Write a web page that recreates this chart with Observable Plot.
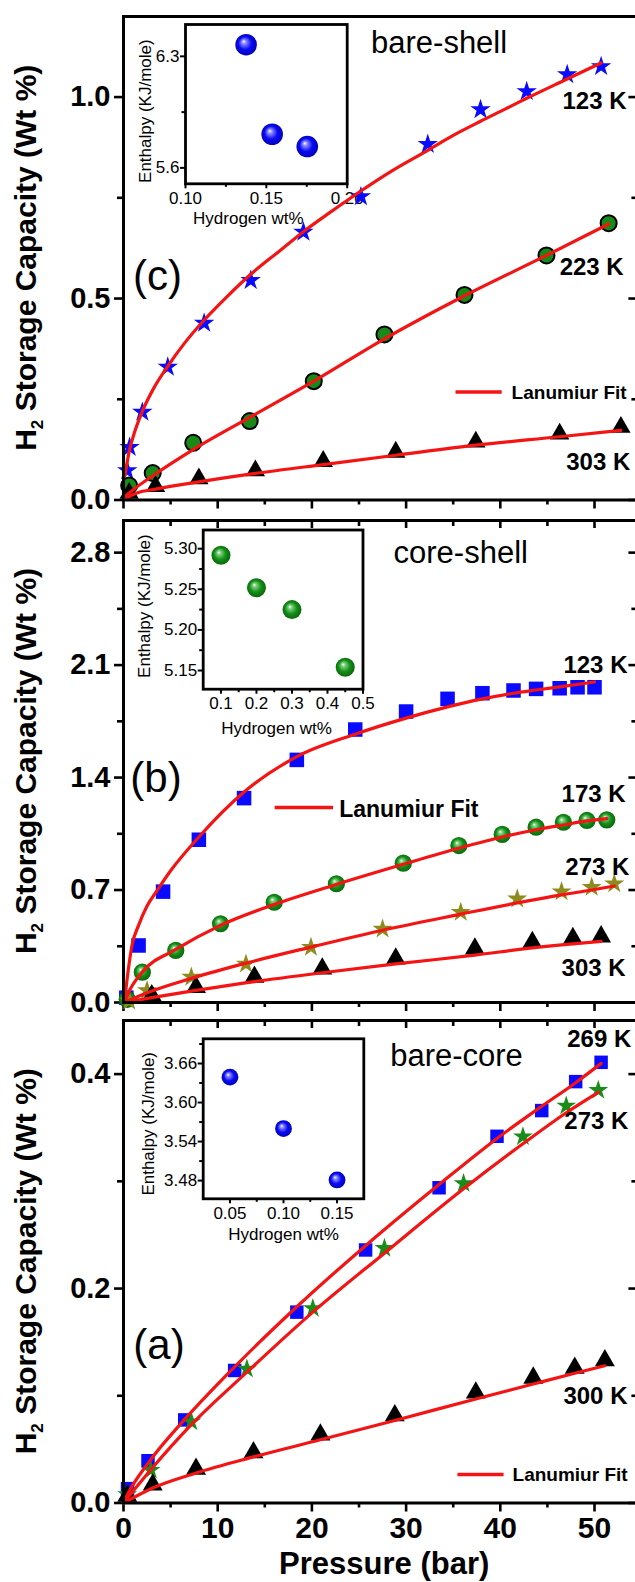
<!DOCTYPE html>
<html>
<head>
<meta charset="utf-8">
<script src="https://cdn.jsdelivr.net/npm/d3@7"></script>
<script src="https://cdn.jsdelivr.net/npm/@observablehq/plot@0.6"></script>
<style>
  html, body { margin: 0; padding: 0; background: white; }
  #fig { position: relative; width: 635px; height: 1582px; overflow: hidden; background: white; }
  #fig svg { position: absolute; }
</style>
</head>
<body>
<div id="fig"></div>
<script>
// ---------------- DATA ----------------
// Panel (c) bare-shell
const pressureC123 = [0.4, 0.65, 2.0, 4.7, 8.56, 13.5, 19.1, 25.2, 32.3, 37.9, 42.8, 47.1, 50.7];
const capC123      = [0.073, 0.131, 0.218, 0.33, 0.439, 0.545, 0.665, 0.753, 0.883, 0.969, 1.014, 1.056, 1.076];
const pressureC223 = [0.6, 3.1, 7.4, 13.4, 20.2, 27.7, 36.2, 44.9, 51.5];
const capC223      = [0.036, 0.067, 0.142, 0.196, 0.295, 0.411, 0.509, 0.607, 0.687];
const pressureC303 = [0.6, 3.4, 8.0, 14.0, 21.2, 28.9, 37.4, 46.3, 52.8];
const capC303      = [0.017, 0.034, 0.053, 0.073, 0.096, 0.119, 0.144, 0.164, 0.181];
const fitPC123 = [0.15, 0.6, 1.2, 2.0, 3.2, 4.7, 6.5, 8.5, 11, 13.6, 16.5, 19.1, 22, 25.2, 28.5, 32.3, 35, 37.9, 40.5, 42.8, 47.1, 50.7];
const fitQC123 = [0.06, 0.12, 0.17, 0.22, 0.277, 0.332, 0.39, 0.445, 0.505, 0.562, 0.617, 0.666, 0.715, 0.767, 0.817, 0.868, 0.905, 0.94, 0.97, 0.997, 1.045, 1.085];
const fitPC223 = [0.2, 1.0, 3.1, 7.4, 13.4, 20.2, 27.7, 36.2, 44.9, 51.5];
const fitQC223 = [0.01, 0.025, 0.06, 0.125, 0.205, 0.295, 0.4, 0.507, 0.607, 0.685];
const fitPC303 = [0.1, 1.5, 3.4, 8.0, 14.0, 21.2, 28.9, 37.4, 46.3, 52.8];
const fitQC303 = [0.003, 0.018, 0.027, 0.045, 0.066, 0.088, 0.111, 0.136, 0.157, 0.173];

// Panel (b) core-shell
const pressureB123 = [0.3, 1.6, 4.2, 8.0, 12.8, 18.4, 24.6, 30.0, 34.4, 38.1, 41.4, 43.8, 46.3, 48.2, 50.0];
const capB123      = [0.03, 0.355, 0.69, 1.013, 1.272, 1.51, 1.699, 1.811, 1.89, 1.925, 1.942, 1.952, 1.956, 1.962, 1.962];
const pressureB173 = [0.4, 2.0, 5.55, 10.3, 16.0, 22.6, 29.7, 35.6, 40.2, 43.8, 46.7, 49.2, 51.3];
const capB173      = [0.02, 0.189, 0.324, 0.49, 0.624, 0.739, 0.867, 0.977, 1.046, 1.091, 1.122, 1.133, 1.137];
const pressureB273 = [0.6, 2.5, 7.2, 13.0, 19.9, 27.5, 35.8, 41.8, 46.5, 49.7, 52.1];
const capB273      = [0.01, 0.075, 0.158, 0.24, 0.344, 0.458, 0.562, 0.645, 0.69, 0.718, 0.739];
const pressureB303 = [3.0, 7.7, 13.9, 21.1, 28.9, 37.3, 43.4, 47.7, 50.7];
const capB303      = [0.044, 0.095, 0.158, 0.21, 0.272, 0.334, 0.375, 0.4, 0.41];
const fitPB123 = [0.1, 0.5, 0.9, 1.6, 2.5, 3.6, 5, 8, 12.8, 18.4, 24.6, 30, 34.4, 38.1, 41.4, 43.8, 46.3, 50];
const fitQB123 = [0.0, 0.2, 0.355, 0.48, 0.6, 0.7, 0.82, 1.03, 1.31, 1.53, 1.67, 1.77, 1.84, 1.89, 1.925, 1.945, 1.965, 1.995];
const fitPB173 = [0.1, 0.6, 2, 5.55, 10.3, 16, 22.6, 29.7, 35.6, 40.2, 43.8, 46.7, 49.2, 51.3];
const fitQB173 = [0.0, 0.07, 0.19, 0.33, 0.48, 0.61, 0.735, 0.86, 0.96, 1.03, 1.075, 1.105, 1.13, 1.145];
const fitPB273 = [0.1, 2.5, 7.2, 13, 19.9, 27.5, 35.8, 41.8, 46.5, 49.7, 52.1];
const fitQB273 = [0.0, 0.06, 0.15, 0.245, 0.345, 0.45, 0.55, 0.62, 0.67, 0.70, 0.725];
const fitPB303 = [0.1, 3, 7.7, 13.9, 21.1, 28.9, 37.3, 43.4, 47.7, 50.7];
const fitQB303 = [0.0, 0.03, 0.075, 0.13, 0.185, 0.24, 0.295, 0.34, 0.365, 0.38];

// Panel (a) bare-core
const pressureA269 = [0.43, 2.6, 6.5, 11.8, 18.4, 25.7, 33.5, 39.65, 44.4, 48.0, 50.7];
const capA269      = [0.0134, 0.0394, 0.0775, 0.1236, 0.178, 0.236, 0.294, 0.342, 0.366, 0.393, 0.411];
const pressureA273 = [0.4, 2.9, 7.2, 13.1, 20.1, 27.7, 36.1, 42.4, 47.0, 50.4];
const capA273      = [0.008, 0.0307, 0.0758, 0.125, 0.1815, 0.2376, 0.298, 0.3417, 0.3704, 0.385];
const pressureA300 = [0.4, 3.1, 7.7, 13.8, 20.9, 28.8, 37.4, 43.5, 47.9, 51.1];
const capA300      = [0.0065, 0.017, 0.0317, 0.047, 0.0637, 0.0817, 0.1028, 0.1167, 0.126, 0.133];
const fitPA269 = [0, 0.43, 2.6, 6.5, 11.8, 18.4, 25.7, 33.5, 39.65, 44.4, 48, 50.7];
const fitQA269 = [0.0, 0.008, 0.037, 0.078, 0.127, 0.183, 0.24, 0.297, 0.34, 0.37, 0.392, 0.41];
const fitPA273 = [0, 2.9, 7.2, 13.1, 20.1, 27.7, 36.1, 42.4, 47, 50.4];
const fitQA273 = [0.0, 0.031, 0.073, 0.122, 0.178, 0.233, 0.293, 0.335, 0.364, 0.383];
const fitPA300 = [0, 3.1, 7.7, 13.8, 20.9, 28.8, 37.4, 43.5, 47.9, 51.1];
const fitQA300 = [0.0, 0.014, 0.028, 0.043, 0.059, 0.077, 0.097, 0.111, 0.121, 0.128];

// Insets: enthalpy vs hydrogen wt%
const hydrogenC = [0.1375, 0.1536, 0.1753];
const enthalpyC = [6.373, 5.811, 5.734];
const hydrogenB = [0.1, 0.2, 0.3, 0.45];
const enthalpyB = [5.292, 5.252, 5.225, 5.154];
const hydrogenA = [0.05, 0.10, 0.15];
const enthalpyA = [3.639, 3.56, 3.481];

// Tick values
const pressureMajor = [0, 10, 20, 30, 40, 50];
const pressureMinor = [5, 15, 25, 35, 45];
const yMajorC = [0, 0.5, 1.0], yMinorC = [0.25, 0.75];
const yMajorB = [0, 0.7, 1.4, 2.1, 2.8], yMinorB = [0.35, 1.05, 1.75, 2.45];
const yMajorA = [0, 0.2, 0.4], yMinorA = [0.1, 0.3];

// Annotation texts
const tempTextC = ["123 K", "223 K", "303 K"];
const tempTextB = ["123 K", "173 K", "273 K", "303 K"];
const tempTextA = ["269 K", "273 K", "300 K"];
const legendText = "Lanumiur Fit";

// ---------------- HELPERS ----------------
const FONT = "'Liberation Sans', Arial, Helvetica, sans-serif";
const NS = "http://www.w3.org/2000/svg";
const zip = (xs, ys) => xs.map((x, i) => ({x, y: ys[i]}));

function sphereDefs(id, light, mid, dark) {
  return () => {
    const defs = document.createElementNS(NS, "defs");
    const g = document.createElementNS(NS, "radialGradient");
    g.setAttribute("id", id);
    g.setAttribute("cx", "0.5"); g.setAttribute("cy", "0.5"); g.setAttribute("r", "0.55");
    g.setAttribute("fx", "0.38"); g.setAttribute("fy", "0.34");
    [[0, "#ffffff"], [0.18, light], [0.55, mid], [1, dark]].forEach(([o, c]) => {
      const s = document.createElementNS(NS, "stop");
      s.setAttribute("offset", o); s.setAttribute("stop-color", c);
      g.appendChild(s);
    });
    defs.appendChild(g);
    return defs;
  };
}

function yTitle() {
  return (index, scales, values, dims) => {
    const cy = dims.marginTop + (dims.height - dims.marginTop - dims.marginBottom) / 2;
    const t = document.createElementNS(NS, "text");
    t.setAttribute("transform", `translate(${dims.marginLeft - 87},${cy}) rotate(-90)`);
    t.setAttribute("text-anchor", "middle");
    t.setAttribute("font-family", FONT);
    t.setAttribute("font-weight", "bold");
    t.setAttribute("font-size", "30");
    const a = document.createElementNS(NS, "tspan"); a.textContent = "H";
    const b = document.createElementNS(NS, "tspan"); b.textContent = "2";
    b.setAttribute("font-size", "17"); b.setAttribute("dy", "7");
    const c = document.createElementNS(NS, "tspan"); c.textContent = " Storage Capacity (Wt %)";
    c.setAttribute("dy", "-7");
    t.append(a, b, c);
    return t;
  };
}

function mainPanel(o) {
  const marks = [];
  if (o.defs) marks.push(o.defs);
  marks.push(
    Plot.axisY(o.yMajor, {anchor: "left", tickSize: 9, tickPadding: 4, strokeWidth: 2.6, fontSize: 29, fontWeight: "bold", tickFormat: d3.format(".1f"), label: null}),
    Plot.axisY(o.yMinor, {anchor: "left", tickSize: 6, strokeWidth: 2.6, tickFormat: () => "", label: null}),
    Plot.axisY(o.yMajor, {anchor: "right", tickSize: 9, dx: -9, strokeWidth: 2.6, tickFormat: () => "", label: null}),
    Plot.axisY(o.yMinor, {anchor: "right", tickSize: 6, dx: -6, strokeWidth: 2.6, tickFormat: () => "", label: null}),
    o.xLabels
      ? Plot.axisX(pressureMajor, {anchor: "bottom", tickSize: 9, tickPadding: 5, strokeWidth: 2.6, fontSize: 30, fontWeight: "bold", tickFormat: d3.format("d"), label: null})
      : Plot.axisX(pressureMajor, {anchor: "bottom", tickSize: 9, strokeWidth: 2.6, tickFormat: () => "", label: null}),
    Plot.axisX(pressureMinor, {anchor: "bottom", tickSize: 5, strokeWidth: 2.6, tickFormat: () => "", label: null})
  );
  if (o.topTicks) {
    marks.push(
      Plot.axisX(pressureMajor, {anchor: "top", tickSize: 7, dy: 7, strokeWidth: 2.6, tickFormat: () => "", label: null}),
      Plot.axisX(pressureMinor, {anchor: "top", tickSize: 5, dy: 5, strokeWidth: 2.6, tickFormat: () => "", label: null})
    );
  }
  o.series.forEach(s => marks.push(Plot.dot(s.data, {x: "x", y: "y", symbol: s.symbol, r: s.r, fill: s.fill, stroke: s.stroke || "none", strokeWidth: s.strokeWidth || 0})));
  o.fits.forEach(f => marks.push(Plot.line(f, {x: "x", y: "y", stroke: "#f41414", strokeWidth: 3.2, curve: "monotone-x"})));
  marks.push(
    Plot.text(o.temps, {x: "x", y: "y", text: "text", textAnchor: "start", lineAnchor: "middle", fontSize: 24, fontWeight: "bold"}),
    Plot.text([o.title], {x: "x", y: "y", text: "text", textAnchor: "middle", lineAnchor: "middle", fontSize: 31}),
    Plot.text([o.letter], {x: "x", y: "y", text: "text", textAnchor: "middle", lineAnchor: "middle", fontSize: 42}),
    Plot.ruleY([o.legend], {y: "y", x1: "x1", x2: "x2", stroke: "#f41414", strokeWidth: 3.4}),
    Plot.text([o.legend], {x: "tx", y: "ty", text: () => legendText, textAnchor: "start", lineAnchor: "middle", fontSize: o.legend.size, fontWeight: "bold"}),
    yTitle(),
    Plot.frame({strokeWidth: 3})
  );
  if (o.xLabels) {
    marks.push(Plot.text(["Pressure (bar)"], {frameAnchor: "bottom", textAnchor: "middle", lineAnchor: "middle", dy: 61, dx: 4, fontSize: 31, fontWeight: "bold"}));
  }
  return Plot.plot({
    width: 640, height: o.height,
    marginLeft: 123, marginRight: 3.6, marginTop: o.marginTop, marginBottom: o.marginBottom,
    x: {domain: [0, 54.5]},
    y: {domain: o.yDomain},
    style: {background: "transparent", fontFamily: FONT, maxWidth: "none", overflow: "visible", color: "black"},
    marks
  });
}

function inset(o) {
  return Plot.plot({
    width: o.width, height: o.height,
    marginLeft: o.ml, marginRight: o.mr, marginTop: o.mt, marginBottom: o.mb,
    x: {domain: o.xDomain},
    y: {domain: o.yDomain},
    style: {background: "transparent", fontFamily: FONT, maxWidth: "none", overflow: "visible", color: "black"},
    marks: [
      o.defs,
      Plot.axisY(o.yMajor, {anchor: "left", tickSize: 5, tickPadding: 1, strokeWidth: 2, fontSize: 17, tickFormat: d3.format(o.yFmt), label: null}),
      Plot.axisY(o.yMinor, {anchor: "left", tickSize: 3.5, strokeWidth: 2, tickFormat: () => "", label: null}),
      Plot.axisX(o.xMajor, {anchor: "bottom", tickSize: 5, tickPadding: 3, strokeWidth: 2, fontSize: 17, tickFormat: d3.format(o.xFmt), label: null}),
      Plot.axisX(o.xMinor, {anchor: "bottom", tickSize: 3.5, strokeWidth: 2, tickFormat: () => "", label: null}),
      Plot.dot(zip(o.hx, o.hy), {x: "x", y: "y", r: o.r, fill: `url(#${o.grad})`}),
      Plot.text(["Enthalpy (KJ/mole)"], {frameAnchor: "left", textAnchor: "middle", lineAnchor: "middle", rotate: -90, dx: o.ylDx, dy: o.ylDy, fontSize: 17}),
      Plot.text(["Hydrogen wt%"], {frameAnchor: "bottom", textAnchor: "middle", lineAnchor: "middle", dx: o.xlDx, dy: o.xlDy, fontSize: 17}),
      Plot.frame({strokeWidth: 2.8})
    ]
  });
}

function place(el, left, top) {
  el.style.position = "absolute";
  el.style.left = left + "px";
  el.style.top = top + "px";
  document.getElementById("fig").appendChild(el);
}

// ---------------- PANEL (c) ----------------
place(inset({
  width: 240, height: 220, ml: 65, mr: 13.3, mt: 14, mb: 46.7,
  xDomain: [0.10, 0.20], yDomain: [5.5, 6.5],
  xMajor: [0.10, 0.15, 0.20], xMinor: [0.125, 0.175], xFmt: ".2f",
  yMajor: [5.6, 6.3], yMinor: [5.95], yFmt: ".1f",
  hx: hydrogenC, hy: enthalpyC, r: 10.8, grad: "sphC",
  defs: sphereDefs("sphC", "#8c8cff", "#0a0af5", "#0000b0"),
  ylDx: -40, ylDy: 7, xlDx: -18, xlDy: 35
}), 120, 10);

place(mainPanel({
  height: 512, marginTop: 16, marginBottom: 12.5, yDomain: [0, 1.2],
  yMajor: yMajorC, yMinor: yMinorC, topTicks: false, xLabels: false,
  series: [
    {data: zip(pressureC123, capC123), symbol: "star", r: 6.4, fill: "#0a0aff"},
    {data: zip(pressureC223, capC223), symbol: "circle", r: 8, fill: "#178a17", stroke: "black", strokeWidth: 2},
    {data: zip(pressureC303, capC303), symbol: "triangle", r: 7.2, fill: "black"}
  ],
  fits: [zip(fitPC123, fitQC123), zip(fitPC223, fitQC223), zip(fitPC303, fitQC303)],
  temps: zip([46.6, 46.3, 47.0], [0.99, 0.577, 0.093]).map((d, i) => ({...d, text: tempTextC[i]})),
  title: {x: 33.5, y: 1.133, text: "bare-shell"},
  letter: {x: 3.6, y: 0.555, text: "(c)"},
  legend: {x1: 35.3, x2: 40.2, y: 0.268, tx: 41.2, ty: 0.266, size: 19}
}), 0, 0);

// ---------------- PANEL (b) ----------------
place(inset({
  width: 260, height: 230, ml: 82.7, mr: 17.5, mt: 14.5, mb: 56.3,
  xDomain: [0.05, 0.5], yDomain: [5.127, 5.323],
  xMajor: [0.1, 0.2, 0.3, 0.4, 0.5], xMinor: [0.15, 0.25, 0.35, 0.45], xFmt: ".1f",
  yMajor: [5.15, 5.20, 5.25, 5.30], yMinor: [5.175, 5.225, 5.275], yFmt: ".2f",
  hx: hydrogenB, hy: enthalpyB, r: 9.5, grad: "sphB",
  defs: sphereDefs("sphB", "#7fd07f", "#14901a", "#066006"),
  ylDx: -59, ylDy: -3.5, xlDx: -6.6, xlDy: 39
}), 120, 515);

place(mainPanel({
  height: 500, marginTop: 8, marginBottom: 10, yDomain: [0, 3.0],
  yMajor: yMajorB, yMinor: yMinorB, topTicks: true, xLabels: false,
  defs: sphereDefs("sphMain", "#7fd07f", "#14901a", "#066006"),
  series: [
    {data: zip(pressureB123, capB123), symbol: "square", r: 8.2, fill: "#0a0aff"},
    {data: zip(pressureB173, capB173), symbol: "circle", r: 8.6, fill: "url(#sphMain)"},
    {data: zip(pressureB273, capB273), symbol: "star", r: 6.3, fill: "#8c8c1e"},
    {data: zip(pressureB303, capB303), symbol: "triangle", r: 7.4, fill: "black"}
  ],
  fits: [zip(fitPB123, fitQB123), zip(fitPB173, fitQB173), zip(fitPB273, fitQB273), zip(fitPB303, fitQB303)],
  temps: zip([46.7, 46.5, 46.9, 46.5], [2.098, 1.295, 0.841, 0.212]).map((d, i) => ({...d, text: tempTextB[i]})),
  title: {x: 35.8, y: 2.80, text: "core-shell"},
  letter: {x: 3.45, y: 1.395, text: "(b)"},
  legend: {x1: 16.1, x2: 22.3, y: 1.214, tx: 22.9, ty: 1.202, size: 23}
}), 0, 512);

// ---------------- PANEL (a) ----------------
place(inset({
  width: 260, height: 230, ml: 82.7, mr: 16.7, mt: 13.3, mb: 56.7,
  xDomain: [0.025, 0.175], yDomain: [3.452, 3.698],
  xMajor: [0.05, 0.10, 0.15], xMinor: [0.075, 0.125], xFmt: ".2f",
  yMajor: [3.48, 3.54, 3.60, 3.66], yMinor: [3.51, 3.57, 3.63, 3.69], yFmt: ".2f",
  hx: hydrogenA, hy: enthalpyA, r: 8.4, grad: "sphA",
  defs: sphereDefs("sphA", "#8c8cff", "#0a0af5", "#0000b0"),
  ylDx: -55, ylDy: 5, xlDx: 0, xlDy: 36
}), 120, 1025);

place(mainPanel({
  height: 570, marginTop: 8, marginBottom: 79.5, yDomain: [0, 0.45],
  yMajor: yMajorA, yMinor: yMinorA, topTicks: true, xLabels: true,
  series: [
    {data: zip(pressureA269, capA269), symbol: "square", r: 7.6, fill: "#0a0aff"},
    {data: zip(pressureA273, capA273), symbol: "star", r: 6.2, fill: "#1a8c1a"},
    {data: zip(pressureA300, capA300), symbol: "triangle", r: 7.4, fill: "black"}
  ],
  fits: [zip(fitPA269, fitQA269), zip(fitPA273, fitQA273), zip(fitPA300, fitQA300)],
  temps: zip([47.1, 46.8, 46.7], [0.4329, 0.3563, 0.0995]).map((d, i) => ({...d, text: tempTextA[i]})),
  title: {x: 35.35, y: 0.4168, text: "bare-core"},
  letter: {x: 3.77, y: 0.1468, text: "(a)"},
  legend: {x1: 35.5, x2: 40.4, y: 0.0266, tx: 41.3, ty: 0.026, size: 19}
}), 0, 1012);
</script>
</body>
</html>
